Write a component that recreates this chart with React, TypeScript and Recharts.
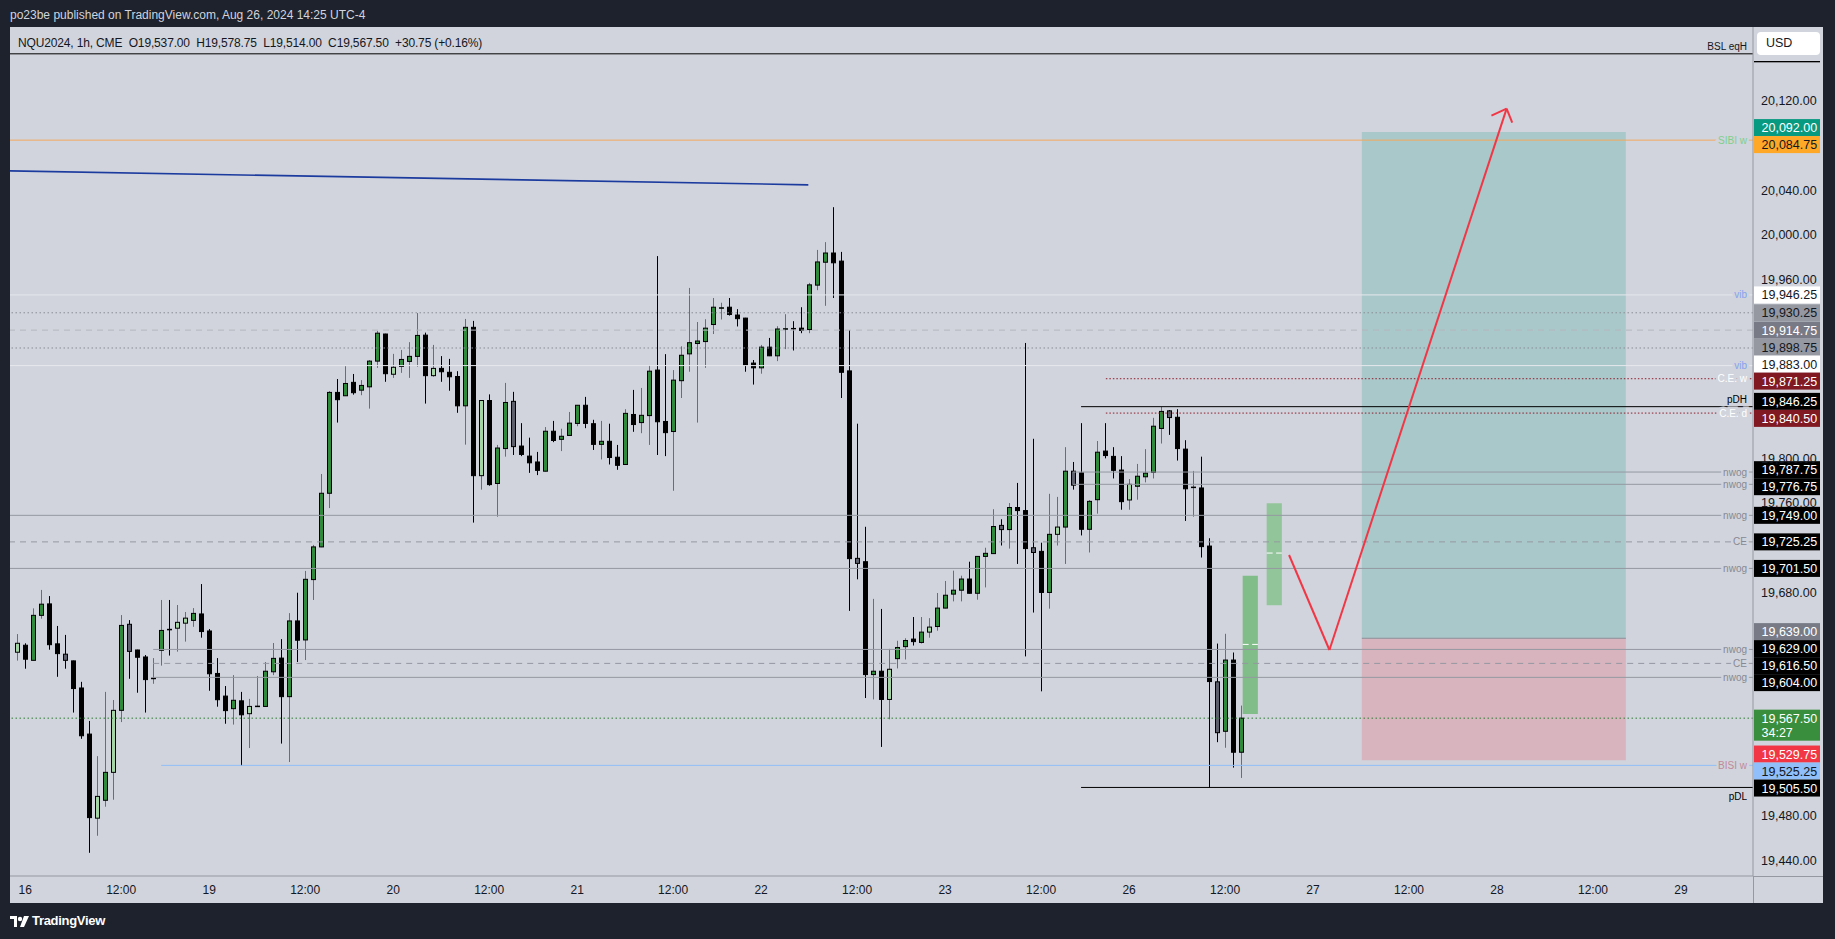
import React from 'react';
import { ComposedChart, Bar, XAxis, YAxis, ReferenceLine, ReferenceArea } from 'recharts';

// NQU2024 1h candles, bar 0 = Aug 15 23:00 (chart time), bar 153 = Aug 26 14:00
const opens = [
  19626.5, 19632.75, 19619.25, 19659.5, 19669.75, 19634, 19624.75, 19618.75, 19594.5, 19553.25,
  19478, 19494, 19519, 19574.5, 19651.5, 19628.5, 19622.25, 19603, 19628.25, 19647,
  19648, 19652.5, 19655, 19660.75, 19645.5, 19607.5, 19587.25, 19576, 19583, 19571.5,
  19578, 19578, 19609, 19621.25, 19586.75, 19654.5, 19637.5, 19691.5, 19720.75, 19768.75,
  19859, 19856, 19868, 19861, 19864, 19887, 19911.25, 19875.25, 19882.25, 19886.75,
  19891.25, 19910.25, 19874, 19880.5, 19877, 19873.25, 19847, 19917.25, 19784.5, 19851.75,
  19777.5, 19808.75, 19851, 19811, 19802, 19796.75, 19788.5, 19824.25, 19817, 19820.5,
  19831.25, 19847.5, 19831, 19812.5, 19815.25, 19801, 19794.5, 19839.25, 19832, 19838.25,
  19879, 19833, 19824, 19869.5, 19893.5, 19902.75, 19904.5, 19919.75, 19934.5, 19935.25,
  19928.25, 19925.5, 19885.25, 19881, 19899.5, 19891.75, 19915.75, 19916.25, 19916.5, 19915.25,
  19955, 19975.5, 19983.75, 19976.5, 19878.25, 19710.5, 19707.5, 19606.5, 19609.5, 19584.25,
  19620.75, 19631.5, 19638.25, 19635.25, 19644.5, 19649.5, 19666, 19678.5, 19682, 19692,
  19679.25, 19712.25, 19714.75, 19740, 19736.25, 19756, 19753.25, 19720, 19716.75, 19680,
  19732, 19738.5, 19788.5, 19787, 19736.5, 19763, 19806.5, 19801.75, 19789.5, 19762.75,
  19775, 19783.5, 19787.5, 19826.75, 19842.5, 19836.75, 19808.25, 19774, 19773.5, 19721.5,
  19600, 19555.75, 19619.5, 19537,
];
const highs = [
  19642.75, 19634.5, 19665.75, 19682.25, 19676.75, 19650, 19642, 19619, 19600, 19565,
  19533.5, 19591, 19583.75, 19659.75, 19655.25, 19628.75, 19624, 19621.25, 19673.25, 19673.25,
  19668.75, 19662.5, 19666, 19687.5, 19647.25, 19621.25, 19596.25, 19606, 19591, 19584.75,
  19605.25, 19617.75, 19634.75, 19638.25, 19661.5, 19679.75, 19699.25, 19722.5, 19786, 19860.25,
  19871, 19882.5, 19875.5, 19870, 19888, 19914, 19911.5, 19893.5, 19897, 19904,
  19930, 19912.5, 19901.5, 19891.5, 19889, 19878, 19924.75, 19923, 19852, 19857.25,
  19812, 19867.5, 19859.5, 19831.5, 19818.5, 19805.75, 19828, 19833.5, 19826.5, 19841.5,
  19847.75, 19855, 19834.5, 19833.5, 19831, 19812, 19844, 19861.25, 19863, 19883.5,
  19981, 19893.25, 19879, 19900.25, 19952.5, 19922, 19924.5, 19943.5, 19939.25, 19943.5,
  19933.5, 19925.75, 19888, 19901.5, 19907.75, 19918.25, 19929, 19922.75, 19935.25, 19957,
  19986.5, 19993.5, 20024.75, 19984.75, 19914.75, 19831, 19738.75, 19674.25, 19665.25, 19629.5,
  19636.75, 19639, 19658, 19658, 19657, 19679.5, 19690.25, 19699.5, 19695, 19707.5,
  19712.5, 19720, 19754.5, 19745.5, 19760, 19778, 19903.25, 19817.5, 19724.5, 19768.25,
  19765.5, 19810, 19796.75, 19831.5, 19762.75, 19815.5, 19831.5, 19810, 19802, 19781.5,
  19795, 19808.25, 19836.25, 19846, 19843.25, 19844, 19816.25, 19788.75, 19801.5, 19728.5,
  19634.25, 19643, 19626.25, 19578.75,
];
const lows = [
  19619, 19611.75, 19619, 19656.5, 19628.75, 19604.5, 19611.75, 19572.5, 19549, 19447,
  19462.25, 19488.25, 19494.5, 19564, 19602.75, 19590.25, 19572.5, 19598.25, 19614.5, 19623.5,
  19627, 19636, 19649.25, 19639.5, 19592, 19577.75, 19562.5, 19561.75, 19524.75, 19540.75,
  19577.75, 19577.75, 19606, 19544.75, 19528.25, 19617.75, 19619.5, 19673.25, 19720.5, 19755.5,
  19832, 19855.75, 19857, 19856.5, 19844.5, 19881, 19868.5, 19872, 19876.5, 19872,
  19882, 19849, 19873, 19868.5, 19860.5, 19840.75, 19812.25, 19742.5, 19772, 19775.5,
  19747.75, 19801.5, 19803, 19802, 19787, 19785, 19788.25, 19814.5, 19806.5, 19820.25,
  19828.75, 19827, 19807.5, 19799, 19794.5, 19789.75, 19794.25, 19823.75, 19822.5, 19812,
  19803, 19802, 19771, 19854, 19877.5, 19832, 19881, 19911.25, 19924.25, 19927.75,
  19918, 19877.5, 19866, 19875.75, 19891.5, 19887, 19897.75, 19896.5, 19912, 19912,
  19950.5, 19936.5, 19943.5, 19854, 19663.5, 19691.75, 19585.5, 19584.25, 19541.75, 19566.5,
  19612, 19620, 19632.5, 19634.25, 19639.5, 19645.75, 19665.75, 19672, 19672, 19679,
  19673.5, 19684.5, 19714.5, 19722, 19719.25, 19705.5, 19622.75, 19662, 19591.5, 19665.5,
  19722, 19705.5, 19772, 19731, 19715.75, 19750.5, 19800, 19782, 19754, 19754,
  19763, 19778.5, 19782, 19813.25, 19821, 19798, 19744, 19747.75, 19711.25, 19505.5,
  19546, 19541, 19523.25, 19514,
];
const closes = [
  19634.5, 19620.25, 19659.5, 19669.5, 19633.25, 19625.25, 19619.25, 19594, 19551.75, 19478.5,
  19497.5, 19519, 19574.5, 19650.5, 19627.25, 19622, 19602, 19603.25, 19646, 19646.75,
  19653.25, 19657, 19661.25, 19645, 19607.25, 19584, 19574.25, 19583.5, 19570.5, 19578,
  19578.25, 19609.5, 19621, 19586.75, 19654.5, 19637.25, 19691.75, 19720.75, 19768.75, 19859,
  19852.5, 19867, 19858.75, 19865.25, 19887, 19912, 19875.75, 19881.5, 19888.5, 19891.25,
  19910, 19874, 19880.5, 19877.5, 19873, 19847, 19917.25, 19784.5, 19851.75, 19776.5,
  19809.25, 19850, 19810.5, 19803.5, 19796, 19789.25, 19824.25, 19816, 19819.75, 19831.5,
  19847.5, 19831.25, 19812.5, 19815.25, 19800.75, 19793.75, 19840.25, 19830.25, 19838.5, 19878,
  19832.75, 19823, 19870, 19892.25, 19903.5, 19905, 19916.5, 19935.25, 19934.75, 19928.75,
  19925, 19883.25, 19881, 19899.5, 19891.75, 19915.75, 19916, 19916, 19914.5, 19955.25,
  19975.75, 19983.75, 19975, 19877, 19710.25, 19706, 19606.5, 19609.5, 19584.25, 19611.25,
  19630.75, 19637, 19636, 19644.5, 19649, 19666, 19677.5, 19682, 19692, 19679.25,
  19712.25, 19715, 19739, 19736.25, 19756, 19753.25, 19719.25, 19715.75, 19680, 19732,
  19738.5, 19788.5, 19776, 19736.5, 19761.5, 19805.5, 19802.5, 19789.25, 19761.25, 19776.75,
  19784, 19786.75, 19828.75, 19842, 19836.5, 19808.75, 19772.75, 19774.25, 19721, 19600.25,
  19554.5, 19619.5, 19537, 19567.5,
];
// bar colouring: g = up, l = light up, k = down, s = grey down
const barKinds =
  'lkggkkskkk' + 'lglgskkggk' + 'llgkkkkgkl' + 'gggkgkgggg' + 'kgkgggklgg' +
  'gklkkkgklk' + 'ggskkkgkgg' + 'gkkgkkgkgg' + 'kkgggggggk' + 'kkkgkggkkg' +
  'ggkkkskgkl' + 'ggkglggggk' + 'gggsgkkskg' + 'lgskggkkkl' + 'ggggskkgkk' + 'sgkg';

const timeTickIdx = [1, 13, 24, 36, 47, 59, 70, 82, 93, 105, 116, 128, 139, 151, 162, 174, 185, 197, 208];
const timeTickLabels = ['16', '12:00', '19', '12:00', '20', '12:00', '21', '12:00', '22', '12:00', '23', '12:00', '26', '12:00', '27', '12:00', '28', '12:00', '29'];
const priceTicks = [19440, 19480, 19680, 19760, 19800, 19960, 20000, 20040, 20120];

// horizontal levels
const levelPrices = [20162, 20084.75, 19946.25, 19930.25, 19914.75, 19898.75, 19883, 19871.25, 19846.25, 19840.5, 19787.75, 19776.75, 19749, 19725.25, 19701.5, 19629, 19616.5, 19604, 19567.5, 19525.25, 19505.5];
const levelTags = ['BSL eqH', 'SIBI w', 'vib', '', '', '', 'vib', 'C.E. w', 'pDH', 'C.E. d', 'nwog', 'nwog', 'nwog', 'CE', 'nwog', 'nwog', 'CE', 'nwog', '', 'BISI w', 'pDL'];
const levelFrom: (number | null)[] = [null, null, null, null, null, null, null, 136.1, 133, 136.1, 132, 132, null, null, null, 17, 17, 17, null, 18, 133];
const levelKinds = ['eq', 'sibi', 'vib', 'dot', 'dash', 'dot', 'vib', 'cer', 'pdh', 'cer', 'nwog', 'nwog', 'nwog', 'ce', 'nwog', 'nwog', 'ce', 'nwog', 'last', 'bisi', 'pdl'];

// price axis tags
const tagPrices = [20092, 20084.75, 19946.25, 19930.25, 19914.75, 19898.75, 19883, 19871.25, 19846.25, 19840.5, 19787.75, 19776.75, 19749, 19725.25, 19701.5, 19639, 19629, 19616.5, 19604, 19567.5, 19529.75, 19525.25, 19505.5];
const tagKinds = ['tp', 'sibi', 'vib', 'dot', 'dash', 'dot', 'vib', 'cer', 'black', 'cer', 'black', 'black', 'black', 'black', 'black', 'entry', 'black', 'black', 'black', 'last', 'sl', 'bisi', 'black'];
const countdown = '34:27';

// long position tool
const positionBars = [168.1, 201.1];
const positionPrices = [20092, 19639, 19529.75];

// projected candles
const projBars = [[153.2, 155.1], [156.2, 158.1]];
const projPrices = [[19695, 19571.25], [19759.75, 19668.5]];
const projMids = [19633.5, 19715.25];

// red path + arrowhead
const arrowBars = [159, 164.05, 186.2];
const arrowPrices = [19713.5, 19628.5, 20113];
const headBars = [184.3, 186.9];
const headPrices = [20106.75, 20100.5];

// blue trend line
const trendBars = [-0.9, 98.9];
const trendPrices = [20057.25, 20044.75];

const FONT = '"Liberation Sans", Arial, Helvetica, sans-serif';
const BG = '#d1d4dc';
const X_MIN = -0.9;
const X_MAX = 217;
const Y_MIN = 19426.25;
const Y_MAX = 20186;
const PLOT_H = 849;

const levelStyles: Record<string, { stroke: string; dash?: string; width: number; text: string; pos: string }> = {
  eq: { stroke: '#000000', width: 1, text: '#131722', pos: 'above' },
  sibi: { stroke: '#f3a95e', width: 1, text: '#7fcf8c', pos: 'center' },
  vib: { stroke: '#e6e8ee', width: 1, text: '#86a2ee', pos: 'center' },
  dot: { stroke: '#8a8d96', dash: '1.5 2.5', width: 1, text: '', pos: 'center' },
  dash: { stroke: '#b4b7bf', dash: '6 5', width: 1, text: '', pos: 'center' },
  cer: { stroke: '#8e1b2b', dash: '1.5 2', width: 1, text: '#ffffff', pos: 'center' },
  pdh: { stroke: '#000000', width: 1, text: '#000000', pos: 'above' },
  pdl: { stroke: '#000000', width: 1, text: '#000000', pos: 'below' },
  nwog: { stroke: '#9598a1', width: 1, text: '#868993', pos: 'center' },
  ce: { stroke: '#9598a1', dash: '6 5', width: 1, text: '#868993', pos: 'center' },
  last: { stroke: '#2e7d32', dash: '1.5 2.5', width: 1, text: '', pos: 'center' },
  bisi: { stroke: '#90bff9', width: 1, text: '#c08a9a', pos: 'center' },
};

const tagStyles: Record<string, [string, string]> = {
  tp: ['#089981', '#ffffff'],
  sibi: ['#ffa726', '#131722'],
  vib: ['#ffffff', '#131722'],
  dot: ['#9598a1', '#131722'],
  dash: ['#787b86', '#ffffff'],
  cer: ['#801922', '#ffffff'],
  black: ['#000000', '#ffffff'],
  entry: ['#787b86', '#ffffff'],
  last: ['#388e3c', '#ffffff'],
  sl: ['#f23645', '#ffffff'],
  bisi: ['#90bff9', '#131722'],
};

const bodyFill: Record<string, string> = { g: '#2f8a3a', l: '#a3d5a4', k: '#000000', s: '#5d606b' };

const fmt = (v: number) => v.toLocaleString('en-US', { minimumFractionDigits: 2, maximumFractionDigits: 2 });

const candles = opens.map((o, i) => ({
  j: i,
  o,
  h: highs[i],
  l: lows[i],
  c: closes[i],
  kind: barKinds[i],
  range: [lows[i], highs[i]],
}));

// spread overlapping axis tags like the price scale does
function spreadTags(prices: number[], skip: boolean[]): number[] {
  const unit = PLOT_H / (Y_MAX - Y_MIN);
  const H = 17;
  const ids = prices.map((_, i) => i).filter((i) => !skip[i]).sort((a, b) => prices[b] - prices[a]);
  const cls: { ids: number[]; sum: number }[] = [];
  const mid = (c: { ids: number[]; sum: number }) => c.sum / c.ids.length;
  for (const i of ids) {
    cls.push({ ids: [i], sum: (Y_MAX - prices[i]) * unit });
    while (cls.length > 1) {
      const a = cls[cls.length - 2];
      const b = cls[cls.length - 1];
      const aBottom = mid(a) + ((a.ids.length - 1) / 2) * H;
      const bTop = mid(b) - ((b.ids.length - 1) / 2) * H;
      if (bTop - aBottom >= H) break;
      cls.splice(cls.length - 2, 2, { ids: [...a.ids, ...b.ids], sum: a.sum + b.sum });
    }
  }
  const out = prices.slice();
  for (const c of cls) {
    const first = mid(c) - ((c.ids.length - 1) / 2) * H;
    c.ids.forEach((i, k) => {
      out[i] = Y_MAX - (first + k * H) / unit;
    });
  }
  return out;
}

const tagDisplay = spreadTags(tagPrices, tagKinds.map((k) => k === 'last'));

function Candle(props: any) {
  const { x, y, width, height, payload } = props;
  if (!payload || !isFinite(y) || !isFinite(height)) return null;
  const top = Math.min(y, y + height);
  const span = Math.abs(height);
  const k = span / (payload.h - payload.l);
  const py = (v: number) => top + (payload.h - v) * k;
  const cx = Math.round(x + width / 2) + 0.5;
  const bTop = py(Math.max(payload.o, payload.c));
  const bBot = py(Math.min(payload.o, payload.c));
  const up = payload.kind === 'g' || payload.kind === 'l';
  return (
    <g>
      <line x1={cx} x2={cx} y1={top} y2={top + span} stroke={up ? '#3a8f45' : '#000000'} strokeWidth={1} />
      <rect x={cx - 2} y={bTop} width={4} height={Math.max(bBot - bTop, 0.5)} fill={bodyFill[payload.kind]} stroke="#000000" strokeWidth={1} />
    </g>
  );
}

const levelLabel = (tag: string, kind: string) => (p: any) => {
  const vb = p.viewBox;
  if (!vb || !tag) return null;
  const st = levelStyles[kind];
  const r = vb.x + vb.width - 6;
  const y = vb.y;
  const ty = st.pos === 'above' ? y - 4 : st.pos === 'below' ? y + 13 : y + 3.5;
  const halo = st.pos === 'center';
  return (
    <text x={r} y={ty} textAnchor="end" fontSize={10} fontFamily={FONT} fill={st.text}
      stroke={halo ? BG : 'none'} strokeWidth={halo ? 5 : 0} paintOrder="stroke">
      {tag}
    </text>
  );
};

const tagLabel = (i: number) => (p: any) => {
  const vb = p.viewBox;
  if (!vb) return null;
  const [bg, fg] = tagStyles[tagKinds[i]];
  const x = vb.x + vb.width + 1;
  const cy = vb.y;
  const two = tagKinds[i] === 'last';
  return (
    <g>
      <rect x={x} y={cy - 8.5} width={66} height={two ? 31 : 17} fill={bg} />
      <text x={x + 7.5} y={cy + 4.5} fontSize={12.5} fontFamily={FONT} fill={fg}>{fmt(tagPrices[i])}</text>
      {two && <text x={x + 7.5} y={cy + 18.7} fontSize={12.5} fontFamily={FONT} fill={fg}>{countdown}</text>}
    </g>
  );
};

const bslLabel = (p: any) => {
  const vb = p.viewBox;
  if (!vb) return null;
  return <rect x={vb.x + vb.width + 1} y={vb.y - 8.5} width={66} height={17} fill="#000000" />;
};

export default function App() {
  return (
    <div style={{ position: 'absolute', left: 0, top: 0, width: 1835, height: 939, background: '#1e222d', overflow: 'hidden', fontFamily: FONT }}>
      <div style={{ position: 'absolute', left: 10, top: 7, fontSize: 12, color: '#d1d4dc', lineHeight: '16px' }}>
        po23be published on TradingView.com, Aug 26, 2024 14:25 UTC-4
      </div>
      <div style={{ position: 'absolute', left: 10, top: 27, width: 1813, height: 876, background: BG }} />
      <ComposedChart
        width={1835}
        height={939}
        data={candles}
        margin={{ top: 27, left: 10, right: 12, bottom: 36 }}
        style={{ position: 'absolute', left: 0, top: 0 }}
      >
        <XAxis
          type="number"
          dataKey="j"
          domain={[X_MIN, X_MAX]}
          allowDataOverflow
          ticks={timeTickIdx}
          interval={0}
          tickFormatter={(v: number) => timeTickLabels[timeTickIdx.indexOf(v)] ?? ''}
          tickLine={false}
          tickSize={0}
          tickMargin={9}
          height={27}
          axisLine={{ stroke: '#9598a1' }}
          tick={{ fill: '#131722', fontSize: 12, fontFamily: FONT }}
        />
        <YAxis
          orientation="right"
          type="number"
          domain={[Y_MIN, Y_MAX]}
          allowDataOverflow
          ticks={priceTicks}
          interval={0}
          tickFormatter={fmt}
          tickLine={false}
          tickSize={0}
          tickMargin={8}
          width={70}
          axisLine={{ stroke: '#9598a1' }}
          tick={{ fill: '#131722', fontSize: 12.5, fontFamily: FONT }}
        />

        <ReferenceArea x1={positionBars[0]} x2={positionBars[1]} y1={positionPrices[1]} y2={positionPrices[0]}
          fill="#089981" fillOpacity={0.2} stroke="none" ifOverflow="visible" />
        <ReferenceArea x1={positionBars[0]} x2={positionBars[1]} y1={positionPrices[2]} y2={positionPrices[1]}
          fill="#f23645" fillOpacity={0.2} stroke="none" ifOverflow="visible" />

        {levelPrices.map((p, i) => {
          const st = levelStyles[levelKinds[i]];
          const from = levelFrom[i];
          const common = {
            stroke: st.stroke,
            strokeWidth: st.width,
            strokeDasharray: st.dash,
            ifOverflow: 'visible' as const,
            label: levelLabel(levelTags[i], levelKinds[i]),
          };
          return from == null ? (
            <ReferenceLine key={`lv${i}`} y={p} {...common} />
          ) : (
            <ReferenceLine key={`lv${i}`} segment={[{ x: from, y: p }, { x: X_MAX, y: p }]} {...common} />
          );
        })}

        <ReferenceLine segment={[{ x: positionBars[0], y: positionPrices[1] }, { x: positionBars[1], y: positionPrices[1] }]}
          stroke="#8c8f98" strokeWidth={1} ifOverflow="visible" />

        <ReferenceLine segment={[{ x: trendBars[0], y: trendPrices[0] }, { x: trendBars[1], y: trendPrices[1] }]}
          stroke="#1c3b9e" strokeWidth={1.6} ifOverflow="visible" />

        {projBars.map((b, i) => (
          <ReferenceArea key={`pj${i}`} x1={b[0]} x2={b[1]} y1={projPrices[i][1]} y2={projPrices[i][0]}
            fill={i === 0 ? '#80bd88' : '#93c59a'} fillOpacity={1} stroke="none" ifOverflow="visible" />
        ))}
        {projBars.map((b, i) => (
          <ReferenceLine key={`pm${i}`} segment={[{ x: b[0], y: projMids[i] }, { x: b[1], y: projMids[i] }]}
            stroke="#ffffff" strokeWidth={1} strokeDasharray="6 3.5" ifOverflow="visible" />
        ))}

        {arrowBars.slice(1).map((b, i) => (
          <ReferenceLine key={`ar${i}`} segment={[{ x: arrowBars[i], y: arrowPrices[i] }, { x: b, y: arrowPrices[i + 1] }]}
            stroke="#f23645" strokeWidth={2} ifOverflow="visible" />
        ))}
        {headBars.map((b, i) => (
          <ReferenceLine key={`hd${i}`} segment={[{ x: arrowBars[2], y: arrowPrices[2] }, { x: b, y: headPrices[i] }]}
            stroke="#f23645" strokeWidth={2} ifOverflow="visible" />
        ))}

        <Bar dataKey="range" barSize={5} isAnimationActive={false} shape={Candle} />

        <ReferenceLine y={levelPrices[0]} stroke="none" ifOverflow="visible" label={bslLabel} />
        {tagPrices.map((p, i) => (
          <ReferenceLine key={`tg${i}`} y={tagDisplay[i]} stroke="none" ifOverflow="visible" label={tagLabel(i)} />
        ))}
      </ComposedChart>

      <div style={{ position: 'absolute', left: 18, top: 36, fontSize: 12, color: '#131722', lineHeight: '14px', whiteSpace: 'pre', letterSpacing: -0.15 }}>
        {'NQU2024, 1h, CME  O19,537.00  H19,578.75  L19,514.00  C19,567.50  +30.75 (+0.16%)'}
      </div>
      <div style={{ position: 'absolute', left: 1754, top: 28, width: 69, height: 32.5, background: BG }} />
      <div style={{ position: 'absolute', left: 1757, top: 31.5, width: 63, height: 23.5, background: '#ffffff', borderRadius: 4, fontSize: 12.5, color: '#131722', lineHeight: '23.5px', paddingLeft: 9, boxSizing: 'border-box' }}>
        USD
      </div>
      <div style={{ position: 'absolute', left: 1753, top: 876, width: 70, height: 1, background: '#9598a1' }} />
      <div style={{ position: 'absolute', left: 1753, top: 876, width: 1, height: 27, background: '#9598a1' }} />
      <svg style={{ position: 'absolute', left: 10, top: 915 }} width={20} height={13} viewBox="0 0 20 13">
        <path d="M0 1h7v11H4V4H0z" fill="#ffffff" />
        <circle cx={10} cy={4} r={2.2} fill="#ffffff" />
        <path d="M14 1h5l-5 11h-4z" fill="#ffffff" />
      </svg>
      <div style={{ position: 'absolute', left: 32, top: 913, fontSize: 13, color: '#ffffff', fontWeight: 600, lineHeight: '16px', letterSpacing: -0.3 }}>
        TradingView
      </div>
    </div>
  );
}
